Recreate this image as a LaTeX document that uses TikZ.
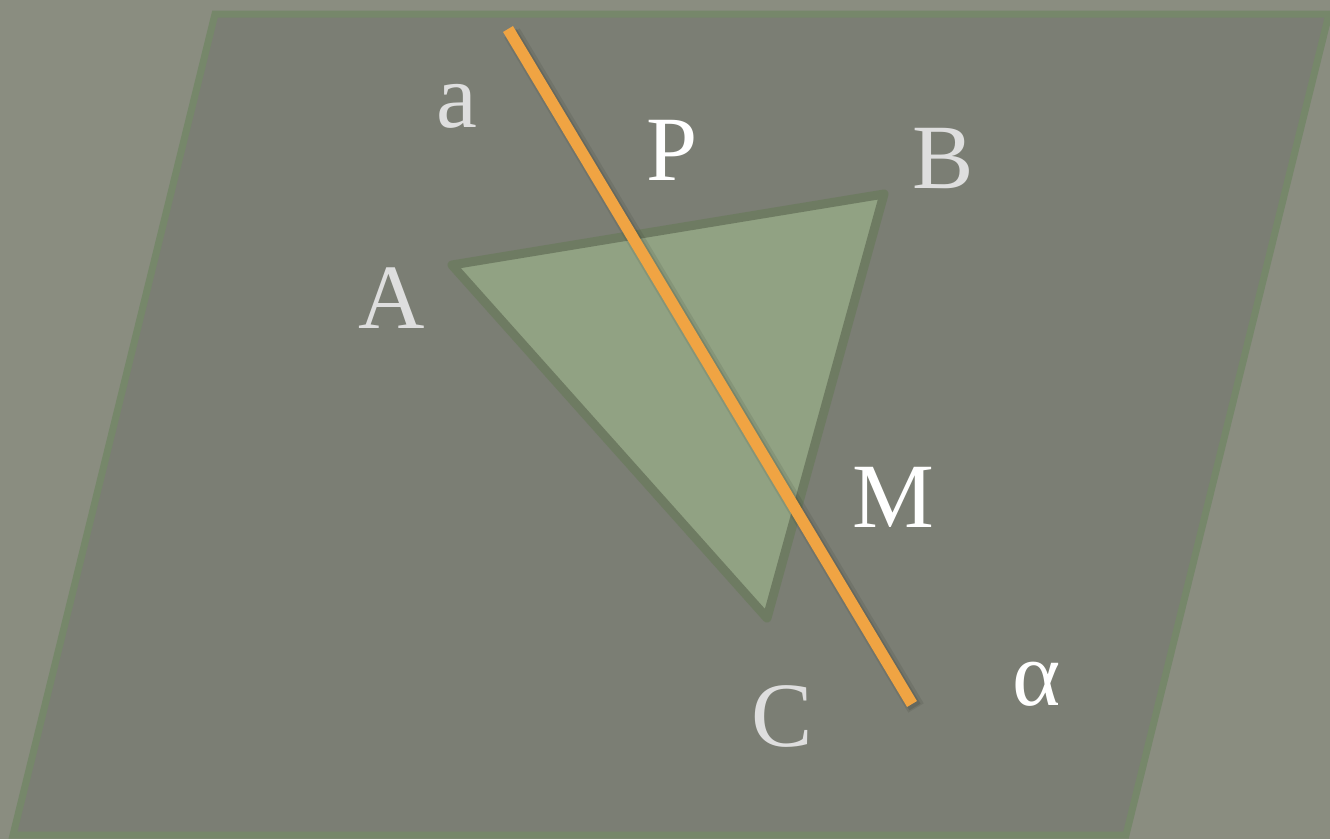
\documentclass[tikz,border=0pt]{standalone}
\usepackage{fontspec}
\setmainfont{Liberation Serif}
\definecolor{bgc}{HTML}{8A8D80}
\definecolor{planec}{HTML}{7B7E74}
\definecolor{planeedge}{HTML}{76876A}
\definecolor{trifill}{HTML}{91A283}
\definecolor{triedge}{HTML}{6E7B62}
\definecolor{linec}{HTML}{F0A443}
\definecolor{lblgray}{HTML}{DEDEDE}
\tikzset{
  lbl/.style={inner sep=0pt, font=\fontsize{92}{92}\selectfont},
  lblg/.style={lbl, text=lblgray},
  lblw/.style={lbl, text=white},
}
\begin{document}
\begin{tikzpicture}[x=1pt,y=-1pt]
\fill[bgc] (0,0) rectangle (1330,839);
\useasboundingbox (0,0) rectangle (1330,839);
% plane alpha
\coordinate (p1) at (215,14);
\coordinate (p2) at (1329,14);
\coordinate (p3) at (1126,835);
\coordinate (p4) at (13,835);
\filldraw[fill=planec, draw=planeedge, line width=7pt, line join=miter] (p1) -- (p2) -- (p3) -- (p4) -- cycle;
% triangle
\coordinate (A) at (452,265);
\coordinate (B) at (884,194);
\coordinate (C) at (767,618);
\filldraw[fill=trifill, draw=triedge, line width=9pt, line join=round] (A) -- (B) -- (C) -- cycle;
% line a
\coordinate (a1) at (508,29);
\coordinate (a2) at (912,704);
\draw[black, opacity=0.08, line width=18pt] ([xshift=4pt,yshift=-4pt]a1) -- ([xshift=4pt,yshift=-4pt]a2);
\draw[black, opacity=0.10, line width=13pt] ([xshift=3pt,yshift=-3pt]a1) -- ([xshift=3pt,yshift=-3pt]a2);
\draw[linec, line width=11.5pt] (a1) -- (a2);
% labels
\node[lblg] (la) at (457,106) {a};
\node[lblw] (lP) at (672,150) {P};
\node[lblg] (lB) at (943,159) {B};
\node[lblg] (lA) at (392,298) {A};
\node[lblw] (lM) at (893,497) {M};
\node[lblg] (lC) at (782,716) {C};
\node[lblw] (lal) at (1037,684) {α};
\end{tikzpicture}
\end{document}
